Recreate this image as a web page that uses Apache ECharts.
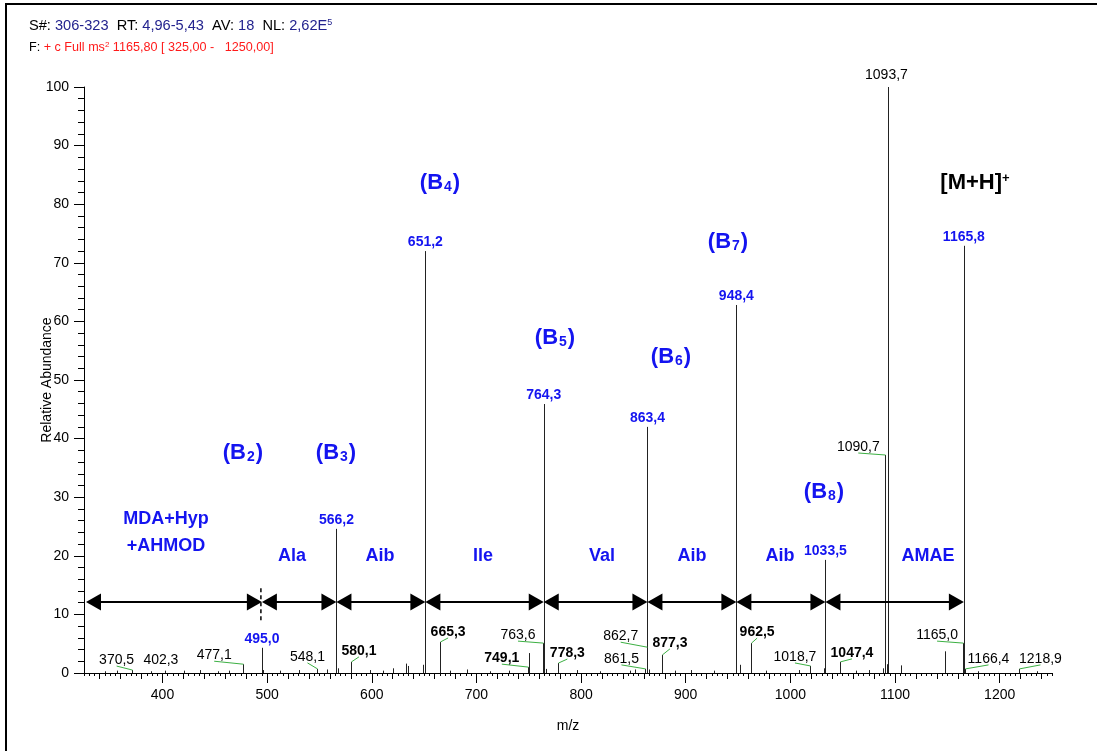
<!DOCTYPE html>
<html>
<head>
<meta charset="utf-8">
<script src="https://cdn.jsdelivr.net/npm/echarts@6/dist/echarts.min.js"></script>
<style>
html, body { margin: 0; padding: 0; background: #fff; }
#main { width: 1097px; height: 751px; }
</style>
</head>
<body>
<div id="main"></div>
<script>
var FONT = '"Liberation Sans", Arial, sans-serif'
var BLUE = '#1414f0'

// spectrum peaks (m/z, relative abundance)
var peakMz = [370.5, 402.3, 477.1, 495.0, 548.1, 566.2, 580.1, 651.2, 665.3, 749.1, 749.8, 763.6, 764.3, 778.3,
  861.5, 862.7, 863.4, 877.3, 948.4, 962.5, 1018.7, 1033.5, 1047.4, 1090.7, 1093.7, 1165.0, 1165.8, 1166.4, 1218.9,
  345.2, 356.8, 389.5, 421.0, 436.2, 452.7, 463.9, 495.8, 512.3, 530.1, 557.4, 567.8, 598.2, 610.6, 620.5, 633.0,
  635.0, 648.5, 675.0, 691.2, 713.0, 731.5, 766.0, 795.9, 818.4, 846.7, 851.2, 865.0, 889.4, 905.0, 926.8, 952.0,
  976.3, 1008.2, 1032.0, 1062.9, 1075.1, 1088.5, 1092.2, 1106.0, 1148.0, 1179.6, 1236.0]
var peakAbundance = [0.5, 0.4, 1.5, 4.3, 0.7, 24.6, 1.9, 72.0, 5.3, 1.0, 3.4, 5.1, 45.9, 1.7,
  0.7, 4.4, 42.0, 3.1, 62.8, 5.1, 1.2, 19.3, 1.9, 37.2, 100, 5.1, 72.9, 0.7, 0.7,
  0.3, 0.4, 0.3, 0.4, 0.5, 0.3, 0.4, 0.5, 0.4, 0.5, 0.6, 0.8, 0.5, 0.4, 0.8, 1.6,
  1.2, 1.4, 0.4, 0.6, 0.3, 0.4, 0.7, 0.5, 0.3, 0.4, 0.6, 0.6, 0.4, 0.5, 0.4, 1.4,
  0.4, 0.5, 0.8, 0.4, 0.5, 0.8, 1.5, 1.3, 3.7, 0.3, 0.3]

// labelled peaks
var labelMz = [370.5, 402.3, 477.1, 495.0, 548.1, 566.2, 580.1, 651.2, 665.3, 749.1, 763.6, 764.3, 778.3,
  861.5, 862.7, 863.4, 877.3, 948.4, 962.5, 1018.7, 1033.5, 1047.4, 1090.7, 1093.7, 1165.0, 1165.8, 1166.4, 1218.9]
var labelKind = ['plain', 'plain', 'plain', 'ion', 'plain', 'ion', 'bold', 'ion', 'bold', 'bold', 'plain', 'ion', 'bold',
  'plain', 'plain', 'ion', 'bold', 'ion', 'bold', 'plain', 'ion', 'bold', 'plain', 'plain', 'plain', 'ion', 'plain', 'plain']

// b-ion series and residues between them
var ionMz = [495.0, 566.2, 651.2, 764.3, 863.4, 948.4, 1033.5, 1165.8]
var ionNames = ['2', '3', '4', '5', '6', '7', '8']
var ionNameMz = [476.9, 565.8, 665.2, 775.1, 885.9, 940.4, 1032.1]
var ionNameLevel = [37.5, 37.5, 83.6, 57.2, 53.9, 73.5, 30.9]
var residueNames = ['MDA+Hyp\n+AHMOD', 'Ala', 'Aib', 'Ile', 'Val', 'Aib', 'Aib', 'AMAE']
var residueMz = [403.4, 523.8, 607.9, 706.3, 820.0, 906.0, 990.1, 1131.5]
var residueLevel = [24.0, 20.0, 20.0, 20.0, 20.0, 20.0, 20.0, 20.0]
var precursorMz = 1176.4
var precursorLevel = 83.6
var arrowStart = 326.9
var arrowLevel = 12.1

// axis ticks
var xLabelTicks = [400, 500, 600, 700, 800, 900, 1000, 1100, 1200]
var xMidTicks = []
var xMinorTicks = []
for (var v = 340; v <= 1240; v += 20) xMidTicks.push(v)
for (var w = 325; w <= 1250; w += 5) xMinorTicks.push(w)

// label placement (pixel shift of label anchor from the peak top)
var labelShift = [[-15, -4], [-4, -5], [-29, -3], [0, -3], [-10, -6], [0, -3], [8, -5], [0, -3], [8, -4], [-26, -3],
  [-25, -2], [0, -3], [9, -4], [-24, -4], [-26, -5], [0, -3], [8, -6], [0, -3], [6, -5], [-15, -3], [0, -3],
  [12, -3], [-27, -2], [-2, -6], [-26, -2], [0, -3], [24, -4], [21, -4]]
var labelFont = {
  plain: { font: '14px ' + FONT, color: '#000' },
  bold: { font: 'bold 14px ' + FONT, color: '#000' },
  ion: { font: 'bold 14px ' + FONT, color: BLUE }
}

var chart = echarts.init(document.getElementById('main'))

var sticks = peakMz.map(function (m, i) { return [m, peakAbundance[i]] })
var labels = labelMz.map(function (m) { return [m, peakAbundance[peakMz.indexOf(m)]] })
var arrows = []
var prev = arrowStart
ionMz.forEach(function (m) { arrows.push([prev, m]); prev = m })

function renderStick(params, api) {
  var top = api.coord([api.value(0), api.value(1)])
  var base = api.coord([api.value(0), 0])
  var x = Math.round(base[0]) + 0.5
  return {
    type: 'line',
    shape: { x1: x, y1: base[1], x2: x, y2: top[1] },
    style: { stroke: '#222', lineWidth: 1 }
  }
}

function renderLabel(params, api) {
  var i = params.dataIndex
  var p = api.coord([api.value(0), api.value(1)])
  var off = labelShift[i]
  var st = labelFont[labelKind[i]]
  var ax = p[0] + off[0]
  var ay = p[1] + off[1]
  var kids = []
  if (Math.abs(off[0]) > 5) {
    kids.push({
      type: 'line',
      shape: { x1: Math.round(p[0]) + 0.5, y1: p[1], x2: ax, y2: ay },
      style: { stroke: '#3cb043', lineWidth: 1 }
    })
  }
  kids.push({
    type: 'text', x: ax, y: ay - 6,
    style: {
      text: labelMz[i].toFixed(1).replace('.', ','),
      font: st.font, fill: st.color, align: 'center', verticalAlign: 'middle'
    }
  })
  return { type: 'group', children: kids }
}

function renderArrow(params, api) {
  var a = api.coord([api.value(0), arrowLevel])
  var b = api.coord([api.value(1), arrowLevel])
  var L = 15, H = 8.5
  return {
    type: 'group',
    children: [
      { type: 'line', shape: { x1: a[0] + L - 1, y1: a[1], x2: b[0] - L + 1, y2: b[1] }, style: { stroke: '#000', lineWidth: 2 } },
      { type: 'polygon', shape: { points: [[a[0], a[1]], [a[0] + L, a[1] - H], [a[0] + L, a[1] + H]] }, style: { fill: '#000' } },
      { type: 'polygon', shape: { points: [[b[0], b[1]], [b[0] - L, b[1] - H], [b[0] - L, b[1] + H]] }, style: { fill: '#000' } }
    ]
  }
}

function renderNotes(params, api) {
  var kids = []
  ionNames.forEach(function (n, i) {
    var p = api.coord([ionNameMz[i], ionNameLevel[i]])
    kids.push({
      type: 'text', x: p[0], y: p[1],
      style: {
        text: '{b|(B}{s|' + n + '}{b|)}', align: 'center', verticalAlign: 'middle',
        rich: {
          b: { font: 'bold 22px ' + FONT, fill: BLUE, verticalAlign: 'bottom' },
          s: { font: 'bold 14px ' + FONT, fill: BLUE, verticalAlign: 'bottom', padding: [0, 1, 0, 1] }
        }
      }
    })
  })
  residueNames.forEach(function (n, i) {
    var p = api.coord([residueMz[i], residueLevel[i]])
    kids.push({
      type: 'text', x: p[0], y: p[1],
      style: { text: n, font: 'bold 18px ' + FONT, fill: BLUE, align: 'center', verticalAlign: 'middle', lineHeight: 27 }
    })
  })
  var q = api.coord([precursorMz, precursorLevel])
  kids.push({
    type: 'text', x: q[0], y: q[1],
    style: {
      text: '{b|[M+H]}{s|+}', align: 'center', verticalAlign: 'middle',
      rich: {
        b: { font: 'bold 22px ' + FONT, fill: '#000', verticalAlign: 'top' },
        s: { font: 'bold 13px ' + FONT, fill: '#000', verticalAlign: 'top' }
      }
    }
  })
  // dashed marker at the B2 ion
  var d1 = api.coord([ionMz[0], 9.0])
  var d2 = api.coord([ionMz[0], 14.7])
  kids.push({
    type: 'line',
    shape: { x1: d1[0] - 1, y1: d1[1], x2: d2[0] - 1, y2: d2[1] },
    style: { stroke: '#000', lineWidth: 1.5, lineDash: [4, 3] }
  })
  return { type: 'group', children: kids }
}

function tickAxis(values, len) {
  return {
    type: 'value', min: 325, max: 1250, position: 'bottom',
    axisLine: { show: false },
    axisTick: { show: true, length: len, customValues: values, lineStyle: { color: '#000', width: 1 } },
    axisLabel: { show: false, customValues: values },
    splitLine: { show: false }
  }
}

var option = {
  animation: false,
  backgroundColor: '#fff',
  textStyle: { fontFamily: FONT },
  grid: { left: 84, right: 45, top: 87, bottom: 78 },
  xAxis: [
    {
      type: 'value', min: 325, max: 1250, position: 'bottom',
      name: 'm/z', nameLocation: 'middle', nameGap: 46,
      nameTextStyle: { fontSize: 14, color: '#000', fontFamily: FONT },
      axisLine: { show: true, onZero: false, lineStyle: { color: '#000', width: 1 } },
      axisTick: { show: true, length: 10, customValues: xLabelTicks, lineStyle: { color: '#000', width: 1 } },
      axisLabel: {
        show: true, customValues: xLabelTicks, margin: 15, fontSize: 14, color: '#000', fontFamily: FONT,
        formatter: function (val) { return String(val) }
      },
      splitLine: { show: false }
    },
    tickAxis(xMidTicks, 6),
    tickAxis(xMinorTicks, 3)
  ],
  yAxis: {
    type: 'value', min: 0, max: 100, interval: 10,
    name: 'Relative Abundance', nameLocation: 'middle', nameRotate: 90, nameGap: 30, nameMoveOverlap: false,
    nameTextStyle: { fontSize: 14, color: '#000', fontFamily: FONT },
    axisLine: { show: true, lineStyle: { color: '#000', width: 1 } },
    axisTick: { show: true, length: 10, lineStyle: { color: '#000', width: 1 } },
    minorTick: { show: true, splitNumber: 5, length: 6, lineStyle: { color: '#000', width: 1 } },
    axisLabel: { margin: 15, fontSize: 14, color: '#000', fontFamily: FONT },
    splitLine: { show: false },
    minorSplitLine: { show: false }
  },
  graphic: [
    { type: 'rect', shape: { x: 6, y: 4, width: 1100, height: 760 }, style: { fill: 'none', stroke: '#000', lineWidth: 2 } },
    {
      type: 'text', left: 29, top: 18,
      style: {
        text: 'S#: {v|306-323}  RT: {v|4,96-5,43}  AV: {v|18}  NL: {v|2,62E}{p|5}',
        font: '14.6px ' + FONT, fill: '#000',
        rich: {
          v: { font: '14.6px ' + FONT, fill: '#23238e', verticalAlign: 'bottom' },
          p: { font: '9px ' + FONT, fill: '#23238e', verticalAlign: 'top' }
        }
      }
    },
    {
      type: 'text', left: 29, top: 41,
      style: {
        text: 'F: {r|+ c Full ms}{p|2}{r| 1165,80 [ 325,00 -   1250,00]}',
        font: '12.6px ' + FONT, fill: '#000',
        rich: {
          r: { font: '12.6px ' + FONT, fill: '#ff1a1a', verticalAlign: 'bottom' },
          p: { font: '8px ' + FONT, fill: '#ff1a1a', verticalAlign: 'top' }
        }
      }
    }
  ],
  series: [
    { type: 'custom', name: 'peaks', renderItem: renderStick, data: sticks, clip: false, silent: true },
    { type: 'custom', name: 'arrows', renderItem: renderArrow, data: arrows, clip: false, silent: true },
    { type: 'custom', name: 'labels', renderItem: renderLabel, data: labels, clip: false, silent: true },
    { type: 'custom', name: 'notes', renderItem: renderNotes, data: [[0, 0]], clip: false, silent: true }
  ]
}

chart.setOption(option)
</script>
</body>
</html>
